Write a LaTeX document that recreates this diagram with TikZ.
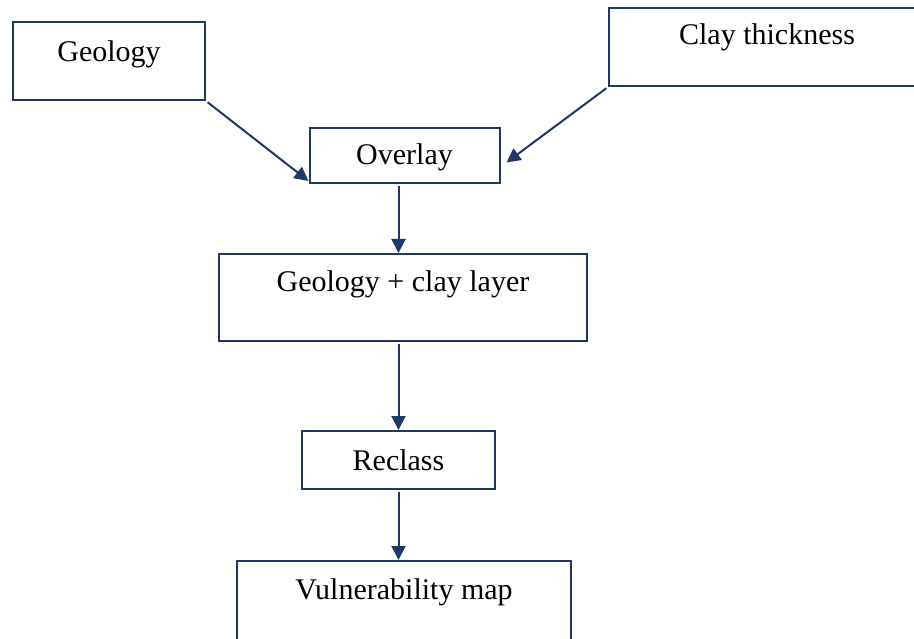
\documentclass[tikz,border=0pt]{standalone}
\usepackage{fontspec}
\setmainfont{Liberation Serif}
\usetikzlibrary{arrows.meta}
\definecolor{navyline}{RGB}{31,56,100}

\begin{document}
\begin{tikzpicture}[x=1pt,y=-1pt,line width=2pt,
        ->,>={Triangle[length=14pt,width=14pt]},shorten <=2pt]
        \tikzset{procbox/.style={draw=navyline, text=black, inner sep=0pt, font=\fontsize{30}{36}\selectfont, line width=2pt}}
        \useasboundingbox (0,0) rectangle (914,639);

        \node[procbox, minimum width=192, text height=40pt, text depth=38pt] (geo)     at (109,61)    {Geology};
        \node[procbox, minimum width=316, text height=37pt, text depth=41pt] (clay)    at (767,47)    {Clay thickness};
        \node[procbox, minimum width=190, text height=37pt, text depth=18pt] (over)    at (404.5,155.5) {Overlay};
        \node[procbox, minimum width=368, text height=38pt, text depth=49pt] (geoclay) at (403,297.5) {Geology + clay layer};
        \node[procbox, minimum width=193, text height=39pt, text depth=19pt] (reclass) at (398.5,460) {Reclass};
        \node[procbox, minimum width=334, text height=38pt, text depth=42pt] (vuln)    at (404,601)   {Vulnerability map};

        \draw[navyline] (geo.south east) -- ([yshift=3pt]over.south west);
        \draw[navyline] (clay.south west) -- ([shift={(6,7)}]over.east);
        \draw[navyline] (over.south -| reclass) -- (geoclay.north -| reclass);
        \draw[navyline] (geoclay.south -| reclass) -- (reclass.north);
        \draw[navyline] (reclass.south) -- (vuln.north -| reclass);

\end{tikzpicture}
\end{document}
